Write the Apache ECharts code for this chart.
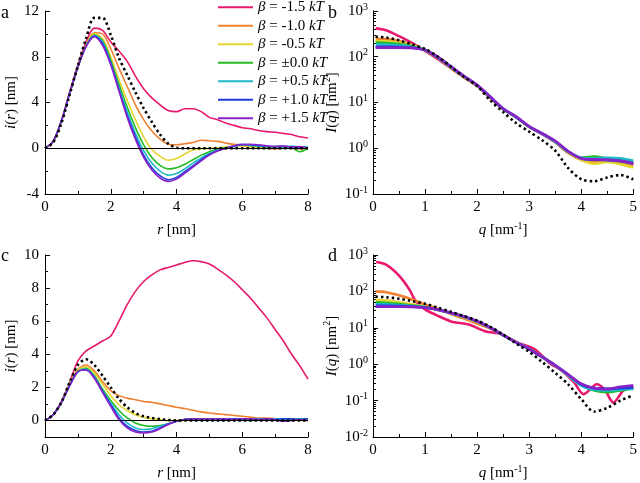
<!DOCTYPE html>
<html lang="en">
<head>
<meta charset="UTF-8">
<title>i(r) and I(q)</title>
<script src="https://cdn.jsdelivr.net/npm/echarts@6/dist/echarts.min.js"></script>
<style>
*{margin:0;padding:0}
#chart{width:640px;height:483px}
</style>
</head>
<body>
<div id="chart"></div>
<script>
const FONT = '"Liberation Serif", "Times New Roman", serif'

// legend names and colours, most negative beta first
const betaNames = ['β = -1.5 kT', 'β = -1.0 kT', 'β = -0.5 kT', 'β = ±0.0 kT', 'β = +0.5 kT', 'β = +1.0 kT', 'β = +1.5 kT']
const lineColors = ['#e8186d', '#f0802f', '#e6d52d', '#22bb22', '#1fb8c8', '#1f3ee0', '#8b22c8']

// r grid [nm] for panels a and c
const rVals = [0, 0.25, 0.5, 0.75, 1, 1.25, 1.5, 1.75, 2, 2.25, 2.5, 2.75, 3, 3.25, 3.5, 3.75, 4, 4.25, 4.5, 4.75, 5, 5.25, 5.5, 5.75, 6, 6.25, 6.5, 6.75, 7, 7.25, 7.5, 7.75, 8]

// panel a: i(r) [nm]
const iA_pink   = [0, 0.6, 2.4, 4.9, 7.3, 9.3, 10.5, 10.3, 9.3, 8.5, 7.6, 6.3, 5.2, 4.4, 3.8, 3.3, 3.2, 3.45, 3.45, 3.2, 2.7, 2.5, 2.2, 2.0, 1.8, 1.7, 1.55, 1.45, 1.4, 1.3, 1.2, 1.0, 0.9]
const iA_orange = [0, 0.6, 2.4, 4.85, 7.2, 9.1, 10.1, 10.0, 8.7, 7.0, 5.4, 3.8, 2.5, 1.5, 0.8, 0.35, 0.3, 0.4, 0.5, 0.7, 0.65, 0.6, 0.45, 0.35, 0.3, 0.2, 0.1, 0.0, -0.05, 0.0, 0.05, -0.05, 0.0]
const iA_yellow = [0, 0.6, 2.4, 4.85, 7.15, 9.0, 10.0, 9.6, 8.0, 6.0, 4.2, 2.5, 1.0, -0.1, -0.7, -1.05, -0.9, -0.5, -0.15, -0.05, 0.0, 0.05, 0.1, 0.15, 0.2, 0.1, 0.1, 0.0, 0.05, 0.0, 0.1, 0.0, 0.05]
const iA_green  = [0, 0.6, 2.4, 4.8, 7.1, 8.95, 9.9, 9.4, 7.7, 5.6, 3.6, 1.8, 0.3, -0.8, -1.5, -1.8, -1.7, -1.4, -1.0, -0.6, -0.3, -0.05, 0.05, 0.2, 0.3, 0.25, 0.2, 0.1, 0.15, 0.1, 0.05, -0.3, 0.0]
const iA_cyan   = [0, 0.6, 2.4, 4.8, 7.1, 8.95, 9.85, 9.3, 7.5, 5.3, 3.2, 1.3, -0.2, -1.3, -2.0, -2.35, -2.2, -1.8, -1.3, -0.85, -0.45, -0.15, 0.0, 0.15, 0.3, 0.25, 0.2, 0.15, 0.1, 0.1, 0.2, 0.1, 0.1]
const iA_blue   = [0, 0.6, 2.4, 4.8, 7.1, 8.9, 9.8, 9.15, 7.4, 5.1, 2.9, 1.0, -0.6, -1.7, -2.4, -2.75, -2.55, -2.05, -1.55, -1.0, -0.55, -0.2, 0.0, 0.2, 0.35, 0.3, 0.25, 0.2, 0.15, 0.2, 0.1, 0.1, 0.05]
const iA_purple = [0, 0.6, 2.4, 4.8, 7.1, 8.9, 9.75, 9.0, 7.3, 5.0, 2.7, 0.8, -0.8, -1.9, -2.6, -2.9, -2.7, -2.2, -1.65, -1.1, -0.6, -0.25, 0.0, 0.2, 0.3, 0.35, 0.3, 0.2, 0.15, 0.2, 0.1, 0.15, 0.0]
const iA_model  = [0, 0.5, 2.2, 4.7, 7.2, 9.6, 11.4, 11.4, 9.9, 7.9, 6.4, 4.9, 3.5, 2.3, 1.2, 0.4, 0.05, 0, 0, 0, 0, 0, 0, 0, 0, 0, 0, 0, 0, 0, 0, 0, 0]

// panel c: i(r) [nm]
const iC_pink   = [0, 0.35, 1.15, 2.3, 3.6, 4.2, 4.5, 4.8, 5.1, 6.0, 7.0, 7.8, 8.4, 8.8, 9.1, 9.25, 9.4, 9.55, 9.65, 9.6, 9.45, 9.15, 8.8, 8.4, 7.9, 7.4, 6.8, 6.2, 5.5, 4.8, 4.0, 3.3, 2.5]
const iC_orange = [0, 0.35, 1.1, 2.2, 3.1, 3.35, 3.0, 2.35, 1.8, 1.5, 1.35, 1.25, 1.15, 1.1, 1.0, 0.9, 0.8, 0.72, 0.62, 0.52, 0.45, 0.4, 0.35, 0.3, 0.25, 0.2, 0.15, 0.15, 0.1, 0.1, 0.05, 0.05, 0.0]
const iC_yellow = [0, 0.35, 1.1, 2.2, 3.05, 3.25, 2.85, 2.2, 1.5, 0.95, 0.6, 0.35, 0.2, 0.1, 0.05, 0.0, 0.0, 0.05, 0.05, 0.1, 0.05, 0.1, 0.05, 0.1, 0.05, 0.05, 0.1, 0.0, 0.05, 0.1, 0.0, 0.05, 0.0]
const iC_green  = [0, 0.35, 1.1, 2.15, 2.95, 3.15, 2.7, 1.9, 1.2, 0.6, 0.15, -0.15, -0.3, -0.35, -0.3, -0.2, -0.05, 0.05, 0.1, 0.1, 0.05, 0.1, 0.1, 0.05, 0.1, 0.0, 0.05, 0.1, 0.05, 0.0, 0.05, 0.1, 0.0]
const iC_cyan   = [0, 0.35, 1.1, 2.15, 2.95, 3.1, 2.65, 1.8, 1.05, 0.35, -0.15, -0.45, -0.55, -0.5, -0.35, -0.2, -0.05, 0.05, 0.1, 0.1, 0.1, 0.05, 0.1, 0.1, 0.05, 0.1, 0.1, 0.05, 0.1, 0.1, 0.05, 0.1, 0.1]
const iC_blue   = [0, 0.35, 1.1, 2.1, 2.95, 3.05, 2.6, 1.75, 0.95, 0.15, -0.35, -0.6, -0.7, -0.65, -0.45, -0.22, -0.05, 0.05, 0.1, 0.1, 0.1, 0.1, 0.05, 0.1, 0.1, 0.1, 0.05, 0.1, 0.05, 0.1, 0.1, 0.05, 0.1]
const iC_purple = [0, 0.35, 1.1, 2.1, 2.95, 3.05, 2.55, 1.7, 0.85, 0.05, -0.45, -0.7, -0.75, -0.7, -0.5, -0.25, -0.05, 0.05, 0.1, 0.1, 0.1, 0.1, 0.1, 0.05, 0.1, 0.1, 0.05, 0.1, 0.05, -0.05, 0.0, 0.05, 0.0]
const iC_model  = [0, 0.35, 1.1, 2.3, 3.35, 3.7, 3.35, 2.7, 2.0, 1.3, 0.8, 0.45, 0.25, 0.15, 0.08, 0.03, 0, 0, 0, 0, 0, 0, 0, 0, 0, 0, 0, 0, 0, 0, 0, 0, 0]

// q grid [nm^-1] for panels b and d
const qVals = [0.05, 0.25, 0.5, 0.75, 1, 1.25, 1.5, 1.75, 2, 2.25, 2.5, 2.75, 3, 3.25, 3.5, 3.75, 4, 4.25, 4.5, 4.75, 5]

// panel b: I(q) [nm^2]
const IB_pink   = [417, 380, 282, 200, 135, 89, 56, 35.5, 22.9, 12.6, 7.2, 4.8, 2.95, 2.04, 1.35, 0.79, 0.56, 0.5, 0.52, 0.5, 0.45]
const IB_orange = [251, 243, 222, 183, 138, 94, 57, 35.5, 23.2, 13, 7.1, 4.75, 2.92, 2.05, 1.38, 0.82, 0.57, 0.5, 0.52, 0.47, 0.42]
const IB_yellow = [224, 218, 203, 175, 139, 95, 58, 36, 23.4, 13.1, 7.2, 4.75, 2.93, 2.05, 1.38, 0.8, 0.55, 0.46, 0.5, 0.45, 0.38]
const IB_green  = [204, 200, 190, 170, 140, 96, 59, 37, 23.5, 13.2, 7.2, 4.8, 2.95, 2.08, 1.4, 0.84, 0.62, 0.66, 0.6, 0.55, 0.5]
const IB_cyan   = [186, 184, 178, 165, 140, 96, 60, 37, 23.8, 13.2, 7.3, 4.8, 2.95, 2.08, 1.4, 0.85, 0.62, 0.6, 0.62, 0.6, 0.53]
const IB_blue   = [166, 165, 163, 157, 140, 97, 60, 37, 24, 13.3, 7.3, 4.85, 2.98, 2.1, 1.42, 0.85, 0.6, 0.56, 0.55, 0.52, 0.46]
const IB_purple = [158, 158, 158, 155, 141, 98, 61, 38, 24, 13.5, 7.4, 4.9, 3.0, 2.1, 1.45, 0.86, 0.6, 0.57, 0.56, 0.53, 0.47]
const IB_model  = [275, 263, 229, 186, 148, 100, 60, 36, 23, 11.2, 6.2, 3.55, 2.3, 1.5, 0.89, 0.37, 0.21, 0.19, 0.23, 0.26, 0.21]

// panel d: I(q) [nm^2]
const qPinkD    = [0.06, 0.25, 0.5, 0.7, 0.82, 1, 1.2, 1.5, 1.84, 2.15, 2.47, 2.78, 3.1, 3.42, 3.6, 3.86, 4.05, 4.3, 4.45, 4.62, 4.81, 5]
const ID_pink   = [640, 540, 270, 112, 54, 32, 23, 15, 12.3, 8.1, 6.6, 3.9, 2.6, 1.0, 0.72, 0.32, 0.15, 0.28, 0.2, 0.089, 0.19, 0.26]
const ID_orange = [100, 95, 78, 60, 44, 33, 24, 18, 13, 9.5, 6.3, 4.1, 2.6, 1.55, 0.9, 0.5, 0.27, 0.2, 0.19, 0.21, 0.22]
const ID_yellow = [59, 57, 50, 44, 38, 31, 25, 19.5, 14.5, 10, 6.3, 4.0, 2.6, 1.58, 0.92, 0.5, 0.27, 0.2, 0.19, 0.2, 0.22]
const ID_green  = [50, 49, 45, 41, 37, 31, 25.3, 20, 14.8, 10.1, 6.3, 4.0, 2.6, 1.58, 0.92, 0.5, 0.27, 0.19, 0.17, 0.19, 0.22]
const ID_cyan   = [45, 44.5, 42, 39.5, 36.5, 31.3, 25.5, 20.2, 15, 10.1, 6.3, 4.0, 2.6, 1.57, 0.92, 0.5, 0.26, 0.2, 0.19, 0.2, 0.21]
const ID_blue   = [40, 40, 39.5, 38.5, 36, 31.5, 25.7, 20.4, 15.1, 10.2, 6.3, 4.0, 2.6, 1.58, 0.93, 0.52, 0.28, 0.22, 0.21, 0.22, 0.23]
const ID_purple = [38, 38, 38, 37.5, 35.5, 31.6, 25.7, 20.4, 15.1, 10.2, 6.3, 4.0, 2.6, 1.58, 0.93, 0.52, 0.29, 0.22, 0.21, 0.24, 0.26]
const ID_model  = [72, 69, 63, 54, 46, 35.5, 27.5, 21, 15.8, 10.7, 6.5, 3.7, 2.2, 1.15, 0.58, 0.28, 0.11, 0.05, 0.063, 0.1, 0.14]

const cTickValues = [0, 2, 4, 6, 8, 10]
const cMinorValues = [-1, 1, 3, 5, 7, 9]

let chart = echarts.init(document.getElementById('chart'))

const txt = {fontFamily: FONT, fontSize: 15, color: '#000'}
const rich = {
    it: {fontFamily: FONT, fontSize: 15, fontStyle: 'italic', color: '#000'},
    sup: {fontFamily: FONT, fontSize: 10, color: '#000', verticalAlign: 'top', lineHeight: 10}
}
const black = {color: '#000', width: 1}

function logMinors(lo, hi) {
    let out = []
    for (let e = lo; e < hi; e++) {
        for (let m = 2; m <= 9; m++) out.push(+(m * Math.pow(10, e)).toPrecision(3))
    }
    return out
}

function linAxis(gi, min, max, interval, name, nameGap, extra) {
    return Object.assign({
        type: 'value', gridIndex: gi, min: min, max: max, interval: interval,
        name: name, nameLocation: 'middle', nameGap: nameGap,
        nameTextStyle: Object.assign({rich: rich, lineHeight: 18}, txt),
        axisLine: {show: true, onZero: false, lineStyle: black},
        axisTick: {show: true, inside: true, length: 5, lineStyle: black},
        minorTick: {show: true, splitNumber: 2, length: 3, lineStyle: black},
        splitLine: {show: false},
        minorSplitLine: {show: false},
        axisLabel: Object.assign({margin: 6}, txt)
    }, extra || {})
}

function logAxis(gi, min, max) {
    return {
        type: 'log', logBase: 10, gridIndex: gi, min: min, max: max,
        name: '{it|I}({it|q}) [nm{sup|2}]', nameLocation: 'middle', nameGap: 30,
        nameTextStyle: Object.assign({rich: rich, lineHeight: 18}, txt),
        axisLine: {show: true, onZero: false, lineStyle: black},
        axisTick: {show: true, inside: true, length: 5, lineStyle: black},
        splitLine: {show: false},
        axisLabel: Object.assign({margin: 5, lineHeight: 18, rich: rich,
            formatter: v => '10{sup|' + Math.round(Math.log10(v)) + '}'}, txt)
    }
}

function minorAxis(gi, type, min, max, values) {
    return {
        type: type, gridIndex: gi, min: min, max: max, position: 'left',
        axisLine: {show: false}, axisLabel: {show: false}, splitLine: {show: false},
        axisTick: {show: true, inside: true, length: 3, lineStyle: black, customValues: values}
    }
}

function curve(name, color, xs, ys, gi, width) {
    return {
        type: 'line', name: name, xAxisIndex: gi, yAxisIndex: gi,
        data: xs.map((x, i) => [x, ys[i]]),
        showSymbol: false, smooth: 0.3, silent: true,
        lineStyle: {color: color, width: width}, itemStyle: {color: color}
    }
}

function model(xs, ys, gi, zeroLine) {
    let s = {
        type: 'line', name: 'model', xAxisIndex: gi, yAxisIndex: gi,
        data: xs.map((x, i) => [x, ys[i]]),
        showSymbol: false, smooth: 0.3, silent: true, z: 3,
        lineStyle: {color: '#000', width: 2.6, type: [2.4, 3], cap: 'butt'}
    }
    if (zeroLine) {
        s.markLine = {silent: true, symbol: 'none', label: {show: false},
            lineStyle: {color: '#000', width: 1, type: 'solid'}, data: [{yAxis: 0}]}
    }
    return s
}

let series = []
const panelA = [iA_pink, iA_orange, iA_yellow, iA_green, iA_cyan, iA_blue, iA_purple]
const panelB = [IB_pink, IB_orange, IB_yellow, IB_green, IB_cyan, IB_blue, IB_purple]
const panelC = [iC_pink, iC_orange, iC_yellow, iC_green, iC_cyan, iC_blue, iC_purple]
const panelD = [ID_pink, ID_orange, ID_yellow, ID_green, ID_cyan, ID_blue, ID_purple]

betaNames.forEach((n, k) => {
    series.push(curve(n, lineColors[k], rVals, panelA[k], 0, 1.6))
    series.push(curve(n, lineColors[k], qVals, panelB[k], 1, 2.6))
    series.push(curve(n, lineColors[k], rVals, panelC[k], 2, 1.6))
    series.push(curve(n, lineColors[k], k === 0 ? qPinkD : qVals, panelD[k], 3, 2.6))
})
series.push(model(rVals, iA_model, 0, true))
series.push(model(qVals, IB_model, 1, false))
series.push(model(rVals, iC_model, 2, true))
series.push(model(qVals, ID_model, 3, false))

const rName = '{it|r} [nm]'
const qName = '{it|q} [nm{sup|-1}]'
const iName = '{it|i}({it|r}) [nm]'

let option = {
    animation: false,
    backgroundColor: '#fff',
    grid: [
        {left: 45, top: 11, width: 263, height: 183},
        {left: 373, top: 11, width: 264, height: 183},
        {left: 45, top: 255, width: 263, height: 183},
        {left: 373, top: 255, width: 264, height: 183}
    ],
    xAxis: [
        linAxis(0, 0, 8, 2, rName, 27),
        linAxis(1, 0, 5, 1, qName, 27),
        linAxis(2, 0, 8, 2, rName, 27),
        linAxis(3, 0, 5, 1, qName, 27)
    ],
    yAxis: [
        linAxis(0, -4, 12, 4, iName, 21),
        logAxis(1, 0.1, 1000),
        linAxis(2, -1, 10, 1, iName, 21, {
            minorTick: {show: false},
            axisTick: {show: true, inside: true, length: 5, lineStyle: black, customValues: cTickValues},
            axisLabel: Object.assign({margin: 6, customValues: cTickValues}, txt)
        }),
        logAxis(3, 0.01, 1000),
        minorAxis(1, 'log', 0.1, 1000, logMinors(-1, 3)),
        minorAxis(3, 'log', 0.01, 1000, logMinors(-2, 3)),
        minorAxis(2, 'value', -1, 10, cMinorValues)
    ],
    legend: {
        data: betaNames,
        orient: 'vertical', left: 213, top: -7,
        icon: 'rect', itemWidth: 35, itemHeight: 2, itemGap: 0,
        selectedMode: false,
        formatter: n => n.replace('β', '{it|β}').replace('kT', '{it|kT}'),
        textStyle: Object.assign({lineHeight: 18.5, rich: {
            it: {fontFamily: FONT, fontSize: 15, fontStyle: 'italic', color: '#000', lineHeight: 18.5}
        }}, txt)
    },
    graphic: [
        {type: 'text', x: 1, y: 4, style: {text: 'a', font: '18px ' + FONT, fill: '#000'}},
        {type: 'text', x: 328, y: 4, style: {text: 'b', font: '18px ' + FONT, fill: '#000'}},
        {type: 'text', x: 1, y: 247, style: {text: 'c', font: '18px ' + FONT, fill: '#000'}},
        {type: 'text', x: 328, y: 247, style: {text: 'd', font: '18px ' + FONT, fill: '#000'}}
    ],
    series: series
}

chart.setOption(option)
</script>
</body>
</html>
